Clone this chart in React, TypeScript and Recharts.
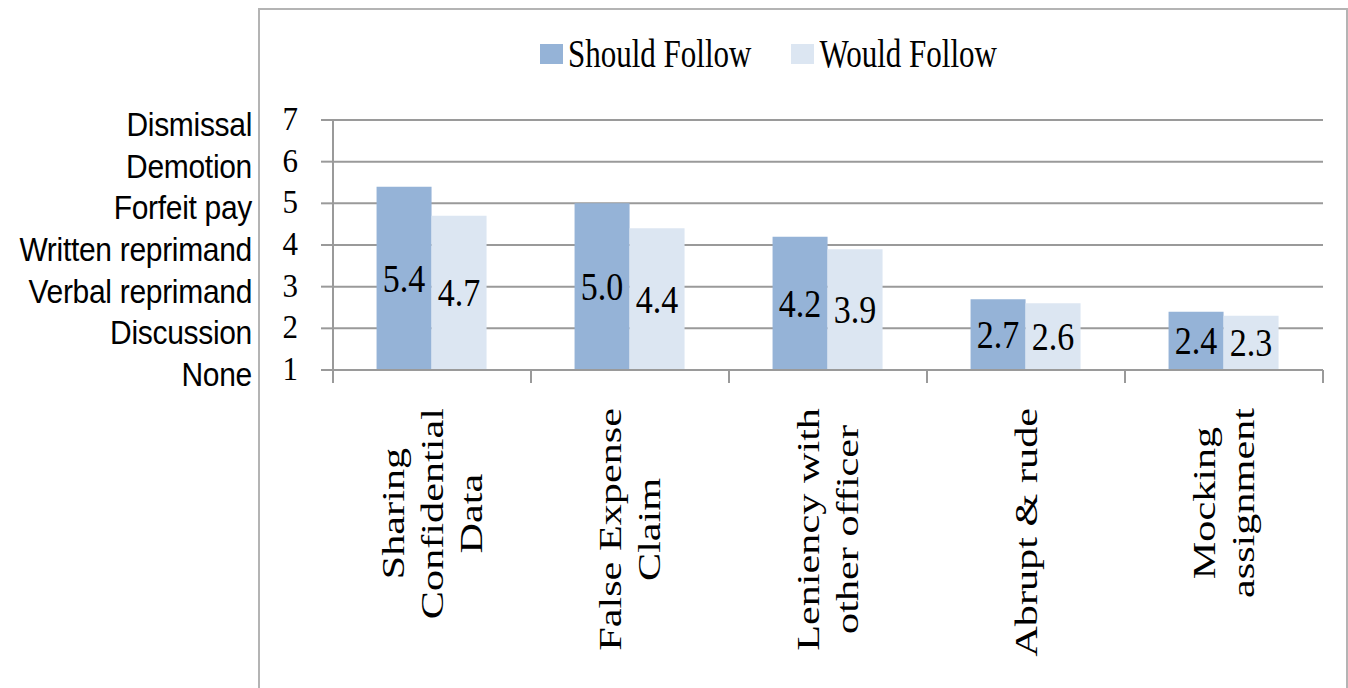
import { BarChart, Bar, XAxis, YAxis, CartesianGrid, Legend } from "recharts";

const categories = [
  "Sharing\nConfidential\nData",
  "False Expense\nClaim",
  "Leniency with\nother officer",
  "Abrupt & rude",
  "Mocking\nassignment",
];
const shouldFollow = [5.4, 5.0, 4.2, 2.7, 2.4];
const wouldFollow = [4.7, 4.4, 3.9, 2.6, 2.3];
const yTicks = [1, 2, 3, 4, 5, 6, 7];
const severity = [
  "None",
  "Discussion",
  "Verbal reprimand",
  "Written reprimand",
  "Forfeit pay",
  "Demotion",
  "Dismissal",
];

const data = categories.map((name, i) => ({
  name,
  should: shouldFollow[i],
  would: wouldFollow[i],
}));

const W = 1348;
const H = 688;
const LEFT = 333;
const RIGHT = 25;
const PLOT_W = W - LEFT - RIGHT;
const SERIF = "'Liberation Serif', 'Times New Roman', serif";
const SANS = "'Liberation Sans', Arial, sans-serif";
const GRID = "#9a9a9a";

let ctx: CanvasRenderingContext2D | null = null;
const textWidth = (s: string, size: number) => {
  if (!ctx) ctx = document.createElement("canvas").getContext("2d");
  if (!ctx) return s.length * size * 0.5;
  ctx.font = `${size}px ${SERIF}`;
  return ctx.measureText(s).width;
};

const YTick = (props: any) => {
  const { x, y, payload } = props;
  const v = payload.value;
  return (
    <g>
      <g transform={`translate(${x}, ${y + 10}) scale(1, 1.1)`}>
        <text textAnchor="end" fontFamily={SERIF} fontSize={31} fill="#000">
          {v}
        </text>
      </g>
      <g transform={`translate(${x - 46}, ${y + 16}) scale(1, 1.1)`}>
        <text textAnchor="end" fontFamily={SANS} fontSize={30} fill="#000" letterSpacing={-0.3}>
          {severity[v - 1]}
        </text>
      </g>
    </g>
  );
};

const XTick = (props: any) => {
  const { x, y, payload, index } = props;
  const band = PLOT_W / categories.length;
  const lines = String(payload.value).split("\n");
  const size = 32;
  const stretch = 1.32;
  const maxLen = Math.max(...lines.map((l) => textWidth(l, size))) * stretch;
  const mid = y + 38 + maxLen / 2;
  const step = 39;
  return (
    <g>
      <line x1={x - band / 2} x2={x - band / 2} y1={y} y2={y + 13} stroke={GRID} strokeWidth={2} />
      {index === categories.length - 1 && (
        <line x1={x + band / 2} x2={x + band / 2} y1={y} y2={y + 13} stroke={GRID} strokeWidth={2} />
      )}
      {lines.map((l, i) => (
        <g
          key={i}
          transform={`translate(${x + (i - (lines.length - 1) / 2) * step}, ${mid}) rotate(-90) scale(${stretch}, 1)`}
        >
          <text textAnchor="middle" dominantBaseline="central" fontFamily={SERIF} fontSize={size} fill="#000">
            {l}
          </text>
        </g>
      ))}
    </g>
  );
};

const BarValue = (props: any) => {
  const { x, y, width, height, value } = props;
  const cx = x + width / 2;
  const cy = y + height / 2;
  return (
    <g transform={`translate(${cx}, ${cy}) scale(1, 1.2)`}>
      <text textAnchor="middle" dominantBaseline="central" fontFamily={SERIF} fontSize={34} fill="#000">
        {Number(value).toFixed(1)}
      </text>
    </g>
  );
};

const LegendContent = (props: any) => {
  const { payload } = props;
  return (
    <div style={{ display: "flex", alignItems: "center" }}>
      {(payload || []).map((p: any, i: number) => (
        <div key={i} style={{ display: "flex", alignItems: "center", marginRight: 40 }}>
          <span style={{ width: 23, height: 20, background: p.color, display: "inline-block", marginRight: 5 }} />
          <span
            style={{
              fontFamily: SERIF,
              fontSize: 31,
              lineHeight: 1,
              color: "#000",
              display: "inline-block",
              transform: "scaleY(1.3)",
            }}
          >
            {p.value}
          </span>
        </div>
      ))}
    </div>
  );
};

export default function App() {
  return (
    <div style={{ position: "absolute", left: 0, top: 0, width: W, height: H, background: "#fff" }}>
      <div
        style={{
          position: "absolute",
          left: 258,
          top: 8,
          width: 1086,
          height: 678,
          borderTop: "2px solid #b4b4b4",
          borderLeft: "2px solid #b4b4b4",
          borderRight: "2px solid #b4b4b4",
          borderBottom: "2px solid #e2e2e2",
        }}
      />
      <BarChart
        width={W}
        height={H}
        data={data}
        margin={{ top: 120, right: RIGHT, bottom: 8, left: 0 }}
        barCategoryGap="22%"
        barGap={0}
      >
        <CartesianGrid horizontal vertical={false} stroke={GRID} strokeWidth={2} />
        <XAxis
          dataKey="name"
          interval={0}
          height={310}
          tickLine={false}
          tickSize={0}
          tickMargin={0}
          axisLine={{ stroke: GRID, strokeWidth: 2 }}
          tick={<XTick />}
        />
        <YAxis
          type="number"
          domain={[1, 7]}
          ticks={yTicks}
          interval={0}
          width={LEFT}
          tickSize={12}
          tickMargin={23}
          tickLine={{ stroke: GRID, strokeWidth: 2 }}
          axisLine={{ stroke: GRID, strokeWidth: 2 }}
          tick={<YTick />}
        />
        <Legend
          verticalAlign="middle"
          align="center"
          content={<LegendContent />}
          wrapperStyle={{ top: 38, left: 540, width: "auto" }}
        />
        <Bar dataKey="should" name="Should Follow" fill="#95B3D7" isAnimationActive={false} label={<BarValue />} />
        <Bar dataKey="would" name="Would Follow" fill="#DCE6F2" isAnimationActive={false} label={<BarValue />} />
      </BarChart>
    </div>
  );
}
